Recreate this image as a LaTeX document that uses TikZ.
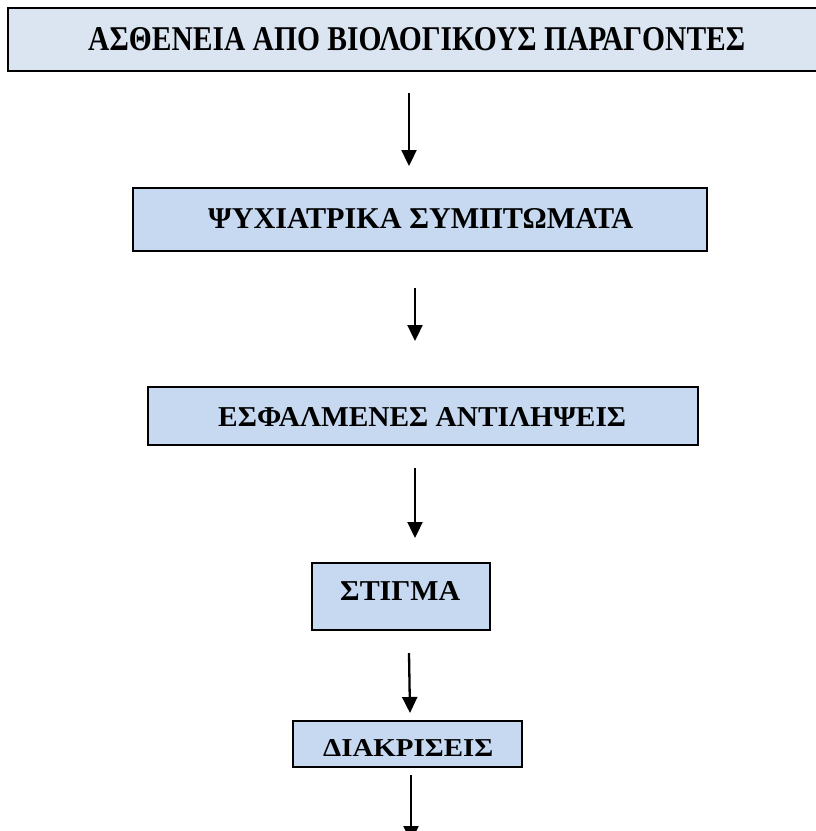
\documentclass[tikz,border=0pt]{standalone}
\usepackage{fontspec}
\setmainfont{Liberation Serif}
\usetikzlibrary{arrows.meta}
\definecolor{boxlight}{HTML}{DBE5F1}
\definecolor{boxblue}{HTML}{C6D9F1}
\tikzset{
  flowbox/.style={draw=black, line width=2.2pt, fill=boxblue, rectangle, inner sep=0pt},
  topbox/.style={flowbox, fill=boxlight},
  boxtext/.style={inner sep=0pt, anchor=south west, font=\bfseries},
  arr/.style={line width=2.3pt, -{Triangle[length=16pt,width=15pt]}}
}
\newcommand{\fitt}[3]{\resizebox{#1pt}{#2pt}{#3}}
\begin{document}
\begin{tikzpicture}[x=1pt,y=-1pt]
\useasboundingbox (0,0) rectangle (816,831);
\clip (0,0) rectangle (816,831);
\fill[white] (0,0) rectangle (816,831);
% boxes
\node[topbox, minimum width=817pt, minimum height=63pt] (b1) at (416.5,39.5) {};
\node[flowbox, minimum width=574pt, minimum height=63pt] (b2) at (420,219.5) {};
\node[flowbox, minimum width=550pt, minimum height=58pt] (b3) at (423,416) {};
\node[flowbox, minimum width=178pt, minimum height=67pt] (b4) at (401,596.5) {};
\node[flowbox, minimum width=229pt, minimum height=46pt] (b5) at (407.5,744) {};
% texts
\node[boxtext] (t1) at (88,51) {\fitt{657}{23}{ΑΣΘΕΝΕΙΑ ΑΠΟ ΒΙΟΛΟΓΙΚΟΥΣ ΠΑΡΑΓΟΝΤΕΣ}};
\node[boxtext] (t2) at (208,229) {\fitt{425}{20}{ΨΥΧΙΑΤΡΙΚΑ ΣΥΜΠΤΩΜΑΤΑ}};
\node[boxtext] (t3) at (218,427) {\fitt{408}{19}{ΕΣΦΑΛΜΕΝΕΣ ΑΝΤΙΛΗΨΕΙΣ}};
\node[boxtext] (t4) at (340,601) {\fitt{120}{19}{ΣΤΙΓΜΑ}};
\node[boxtext] (t5) at (323,757) {\fitt{170}{17}{ΔΙΑΚΡΙΣΕΙΣ}};
% arrow ends
\coordinate (a1s) at (409,93);  \coordinate (a1e) at (409,166);
\coordinate (a2s) at (415,288); \coordinate (a2e) at (415,341);
\coordinate (a3s) at (415,468); \coordinate (a3e) at (415,538);
\coordinate (a4s) at (409,653); \coordinate (a4e) at (410,713);
\coordinate (a5s) at (411,775); \coordinate (a5e) at (411,842);
\draw[arr] (a1s) -- (a1e);
\draw[arr] (a2s) -- (a2e);
\draw[arr] (a3s) -- (a3e);
\draw[arr] (a4s) -- (a4e);
\draw[arr] (a5s) -- (a5e);
\end{tikzpicture}
\end{document}
